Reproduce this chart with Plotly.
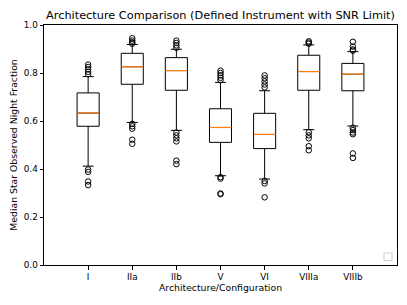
import plotly.graph_objects as go

categories = ["I", "IIa", "IIb", "V", "VI", "VIIIa", "VIIIb"]
q1 = [0.578, 0.753, 0.728, 0.511, 0.485, 0.728, 0.726]
median = [0.633, 0.826, 0.810, 0.573, 0.544, 0.806, 0.795]
q3 = [0.717, 0.882, 0.864, 0.651, 0.632, 0.874, 0.840]
lowerfence = [0.412, 0.594, 0.561, 0.372, 0.358, 0.564, 0.579]
upperfence = [0.785, 0.919, 0.899, 0.761, 0.726, 0.917, 0.889]
outliers = [
    [0.835, 0.825, 0.815, 0.805, 0.795, 0.398, 0.388, 0.348, 0.333],
    [0.945, 0.935, 0.928, 0.922, 0.588, 0.578, 0.568, 0.522, 0.505],
    [0.935, 0.925, 0.915, 0.905, 0.552, 0.540, 0.528, 0.515, 0.435, 0.420],
    [0.810, 0.800, 0.790, 0.780, 0.770, 0.366, 0.360, 0.298, 0.295],
    [0.790, 0.778, 0.765, 0.752, 0.740, 0.350, 0.340, 0.282],
    [0.932, 0.927, 0.922, 0.553, 0.540, 0.528, 0.495, 0.478],
    [0.930, 0.910, 0.898, 0.893, 0.572, 0.562, 0.552, 0.545, 0.465, 0.446],
]

positions = list(range(1, len(categories) + 1))
box_width = 0.5

fig = go.Figure()
fig.add_trace(go.Box(
    x=positions, q1=q1, median=median, q3=q3,
    lowerfence=lowerfence, upperfence=upperfence,
    width=box_width, whiskerwidth=0.5,
    fillcolor="rgba(255,255,255,0)",
    line=dict(color="black", width=1),
    boxpoints=False, showlegend=False, hoverinfo="skip",
))

# orange median lines
mx, my = [], []
for p, m in zip(positions, median):
    mx += [p - box_width / 2, p + box_width / 2, None]
    my += [m, m, None]
fig.add_trace(go.Scatter(x=mx, y=my, mode="lines",
                         line=dict(color="#ff7f0e", width=1.2),
                         showlegend=False, hoverinfo="skip"))

# outliers
ox, oy = [], []
for p, vals in zip(positions, outliers):
    ox += [p] * len(vals)
    oy += vals
fig.add_trace(go.Scatter(x=ox, y=oy, mode="markers",
                         marker=dict(symbol="circle-open", size=5.5,
                                     color="black", line=dict(width=1)),
                         showlegend=False, hoverinfo="skip"))

font = "DejaVu Sans"
# page body has an 8px default margin; figure is sized to fit the remaining window
fig.update_layout(
    width=399, height=297,
    margin=dict(l=36, r=10, t=17, b=40, autoexpand=False),
    paper_bgcolor="white", plot_bgcolor="white",
    font=dict(family=font, size=8.8, color="black"),
    title=dict(text="Architecture Comparison (Defined Instrument with SNR Limit)",
               x=0.5, xref="paper", xanchor="center",
               y=1, yref="paper", yanchor="bottom", pad=dict(b=6),
               font=dict(family=font, size=11.3, color="black")),
    xaxis=dict(range=[0, 8], tickmode="array", tickvals=positions,
               ticktext=categories, showgrid=False, zeroline=False,
               automargin=False,
               showline=True, linecolor="black", linewidth=1, mirror=True,
               ticks="outside", ticklen=3.5, tickcolor="black",
               title=dict(text="Architecture/Configuration", standoff=3,
                          font=dict(size=9.3))),
    yaxis=dict(range=[0, 1], tickmode="array",
               tickvals=[0, 0.2, 0.4, 0.6, 0.8, 1.0],
               ticktext=["0.0", "0.2", "0.4", "0.6", "0.8", "1.0"],
               showgrid=False, zeroline=False, automargin=False,
               showline=True, linecolor="black", linewidth=1, mirror=True,
               ticks="outside", ticklen=3.5, tickcolor="black",
               title=dict(text="Median Star Observed Night Fraction", standoff=5,
                          font=dict(size=9.3))),
    shapes=[dict(type="rect", xref="paper", yref="paper",
                 x0=0.963, x1=0.986, y0=0.018, y1=0.05,
                 line=dict(color="#cccccc", width=1), fillcolor="white")],
)

fig.write_html("out.html")
